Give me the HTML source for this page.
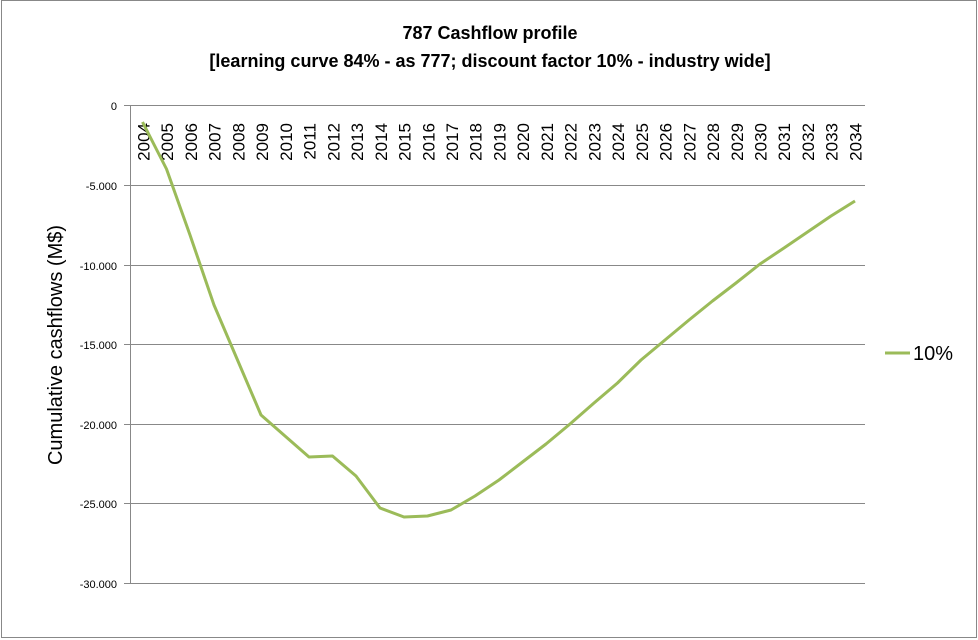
<!DOCTYPE html>
<html><head><meta charset="utf-8"><style>
body{margin:0;background:#fff}
svg{display:block;font-family:"Liberation Sans",sans-serif}
</style></head><body>
<svg width="978" height="640" viewBox="0 0 978 640">
<rect x="1.5" y="0.5" width="975" height="637" fill="#fff" stroke="#888"/>
<text x="490" y="39" text-anchor="middle" font-size="18" font-weight="bold">787 Cashflow profile</text>
<text x="490" y="67" text-anchor="middle" font-size="18" font-weight="bold">[learning curve 84% - as 777; discount factor 10% - industry wide]</text>
<g stroke="#888" stroke-width="1">
<line x1="130.5" y1="105.5" x2="865" y2="105.5"/>
<line x1="130.5" y1="185.5" x2="865" y2="185.5"/>
<line x1="130.5" y1="265.5" x2="865" y2="265.5"/>
<line x1="130.5" y1="344.5" x2="865" y2="344.5"/>
<line x1="130.5" y1="424.5" x2="865" y2="424.5"/>
<line x1="130.5" y1="503.5" x2="865" y2="503.5"/>
<line x1="130.5" y1="583.5" x2="865" y2="583.5"/>
<line x1="130.5" y1="105" x2="130.5" y2="584"/>
<line x1="124" y1="105.5" x2="130.5" y2="105.5"/>
<line x1="124" y1="185.5" x2="130.5" y2="185.5"/>
<line x1="124" y1="265.5" x2="130.5" y2="265.5"/>
<line x1="124" y1="344.5" x2="130.5" y2="344.5"/>
<line x1="124" y1="424.5" x2="130.5" y2="424.5"/>
<line x1="124" y1="503.5" x2="130.5" y2="503.5"/>
<line x1="124" y1="583.5" x2="130.5" y2="583.5"/>
</g>
<g font-size="11" text-anchor="end">
<text x="117" y="110">0</text>
<text x="117" y="190">-5.000</text>
<text x="117" y="270">-10.000</text>
<text x="117" y="349">-15.000</text>
<text x="117" y="429">-20.000</text>
<text x="117" y="508">-25.000</text>
<text x="117" y="588">-30.000</text>
</g>
<text transform="translate(62,345) rotate(-90)" text-anchor="middle" font-size="20">Cumulative cashflows (M$)</text>
<g font-size="17" text-anchor="end">
<text transform="translate(149.5,123) rotate(-90)">2004</text>
<text transform="translate(173.2,123) rotate(-90)">2005</text>
<text transform="translate(197.0,123) rotate(-90)">2006</text>
<text transform="translate(220.7,123) rotate(-90)">2007</text>
<text transform="translate(244.4,123) rotate(-90)">2008</text>
<text transform="translate(268.2,123) rotate(-90)">2009</text>
<text transform="translate(291.9,123) rotate(-90)">2010</text>
<text transform="translate(315.6,123) rotate(-90)">2011</text>
<text transform="translate(339.3,123) rotate(-90)">2012</text>
<text transform="translate(363.1,123) rotate(-90)">2013</text>
<text transform="translate(386.8,123) rotate(-90)">2014</text>
<text transform="translate(410.5,123) rotate(-90)">2015</text>
<text transform="translate(434.3,123) rotate(-90)">2016</text>
<text transform="translate(458.0,123) rotate(-90)">2017</text>
<text transform="translate(481.7,123) rotate(-90)">2018</text>
<text transform="translate(505.5,123) rotate(-90)">2019</text>
<text transform="translate(529.2,123) rotate(-90)">2020</text>
<text transform="translate(552.9,123) rotate(-90)">2021</text>
<text transform="translate(576.6,123) rotate(-90)">2022</text>
<text transform="translate(600.4,123) rotate(-90)">2023</text>
<text transform="translate(624.1,123) rotate(-90)">2024</text>
<text transform="translate(647.8,123) rotate(-90)">2025</text>
<text transform="translate(671.6,123) rotate(-90)">2026</text>
<text transform="translate(695.3,123) rotate(-90)">2027</text>
<text transform="translate(719.0,123) rotate(-90)">2028</text>
<text transform="translate(742.8,123) rotate(-90)">2029</text>
<text transform="translate(766.5,123) rotate(-90)">2030</text>
<text transform="translate(790.2,123) rotate(-90)">2031</text>
<text transform="translate(813.9,123) rotate(-90)">2032</text>
<text transform="translate(837.7,123) rotate(-90)">2033</text>
<text transform="translate(861.4,123) rotate(-90)">2034</text>
</g>
<polyline fill="none" stroke="#9bbb59" stroke-width="3" stroke-linejoin="round" points="
142.5,122 166.5,169 190,235 214,305 237.5,360 261,415 285,436 309,457 332.5,456 356,476 380,508 404,517 427.5,516 451,510 475,496 499,480 522.5,462 546,444 570,424 594,403 617.5,383 641,360 665,340 689,320 712.5,301 736,283 760,264 784,248 807.5,232 831,216 855,201"/>
<line x1="885" y1="353" x2="910" y2="353" stroke="#9bbb59" stroke-width="3"/>
<text x="913" y="360" font-size="20">10%</text>
</svg>
</body></html>
